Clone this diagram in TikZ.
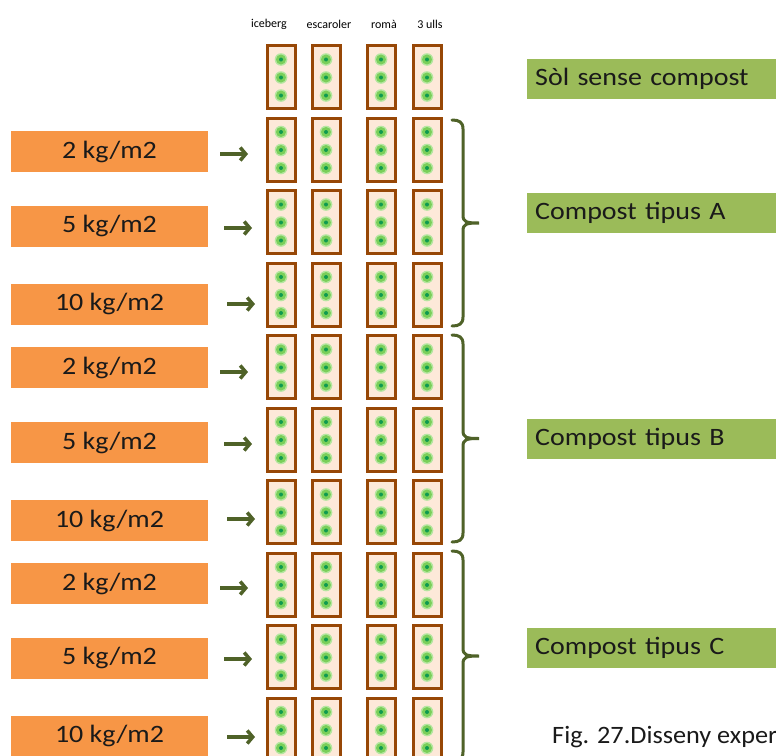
\documentclass[tikz,border=0pt]{standalone}
\usepackage{fontspec}
\setmainfont{Carlito}
\newfontfamily\widefont[FakeStretch=1.12]{Carlito}
\newfontfamily\capfont[FakeStretch=1.05]{Carlito}
\usetikzlibrary{arrows.meta}
\definecolor{orbox}{HTML}{F79646}
\definecolor{grbox}{HTML}{9BBB59}
\definecolor{dkgreen}{HTML}{4F6228}
\definecolor{plotbrown}{HTML}{974706}
\definecolor{plotfill}{HTML}{FDE9D9}
\definecolor{leaf}{HTML}{7ACF5A}
\definecolor{leafhalo}{HTML}{B5E6A0}
\definecolor{leafdark}{HTML}{0E9A50}
\definecolor{txt}{HTML}{1A1A1A}
\tikzset{
  dosebox/.style={fill=orbox, minimum width=197pt, minimum height=41pt, inner sep=0pt,
    text=txt, font=\widefont\fontsize{25}{30}\selectfont},
  compbox/.style={fill=grbox, anchor=west, minimum height=40pt, text width=250pt,
    inner xsep=8pt, inner ysep=0pt, align=left, text=txt,
    font=\widefont\fontsize{25}{30}\selectfont},
  plotbox/.style={draw=plotbrown, line width=3pt, fill=plotfill, minimum width=28pt,
    minimum height=63pt, inner sep=0pt},
  doarrow/.style={draw=dkgreen, line width=3.5pt, -{Straight Barb[length=5.5pt,width=13pt]}},
  bracepath/.style={draw=dkgreen, line width=3pt, line cap=round},
  hdr/.style={font=\fontsize{12}{14}\selectfont, inner sep=0pt, text=black},
}
\newcommand{\leafdot}[2]{%
  \fill[leafhalo] (#1,#2) circle (6.3pt);
  \fill[leaf] (#1,#2) circle (5pt);
  \fill[leafdark] (#1,#2) circle (2pt);}
\newcommand{\mybrace}[2]{%
  \pgfmathsetmacro{\mT}{#1}\pgfmathsetmacro{\mB}{#2}\pgfmathsetmacro{\mM}{(#1+#2)/2}%
  \draw[bracepath] (452,\mT) .. controls (459,\mT) and (463,\mT+2) .. (463,\mT+9)
    -- (463,\mM-8) .. controls (463,\mM-1) and (466,\mM) .. (479,\mM)
    .. controls (466,\mM) and (463,\mM+1) .. (463,\mM+8)
    -- (463,\mB-9) .. controls (463,\mB-2) and (459,\mB) .. (452,\mB);}
\begin{document}
\begin{tikzpicture}[x=1pt, y=-1pt]
\useasboundingbox (0,0) rectangle (776,755);
\clip (0,0) rectangle (776,755);
\fill[white] (0,0) rectangle (776,755);

% column headers
\node[hdr] (h1) at (269,24) {iceberg};
\node[hdr] (h2) at (329,24) {escaroler};
\node[hdr] (h3) at (384,24) {romà};
\node[hdr] (h4) at (430,24) {3 ulls};

% plots
\foreach \r in {0,...,9}{
  \foreach \c/\cx in {1/281,2/326,3/381,4/427}{
    \pgfmathsetmacro{\cy}{77+72.5*\r}
    \node[plotbox] (p\r-\c) at (\cx,\cy) {};
    \leafdot{\cx}{\cy-17.5}
    \leafdot{\cx}{\cy+0.5}
    \leafdot{\cx}{\cy+18.5}
  }
}

% dose boxes and arrows
\foreach \i/\lab/\yc/\ya/\xa in {
  1/{2 kg/m2}/151.5/154/220,
  2/{5 kg/m2}/226/228/224,
  3/{10 kg/m2}/304/304/227,
  4/{2 kg/m2}/367.5/372/220,
  5/{5 kg/m2}/442.5/444/224,
  6/{10 kg/m2}/520.5/519/227,
  7/{2 kg/m2}/583.5/588/220,
  8/{5 kg/m2}/658/659/224,
  9/{10 kg/m2}/736/737/227}{
  \node[dosebox] (d\i) at (109.5,\yc) {\lab};
  \coordinate (as\i) at (\xa,\ya);
  \coordinate (ae\i) at (\xa+28,\ya);
  \draw[doarrow] (as\i) -- (ae\i);
}

% braces
\mybrace{120}{326}
\mybrace{335}{542}
\mybrace{551}{761}

% compost labels
\node[compbox] (c0) at (527,79) {Sòl sense compost};
\node[compbox] (cA) at (527,213) {Compost tipus A};
\node[compbox] (cB) at (527,439) {Compost tipus B};
\node[compbox] (cC) at (527,647.5) {Compost tipus C};

% caption
\node[anchor=base west, inner sep=0pt, text=txt, font=\capfont\fontsize{25}{30}\selectfont] (cap) at (552,743) {Fig. 27.Disseny exper};
\end{tikzpicture}
\end{document}
